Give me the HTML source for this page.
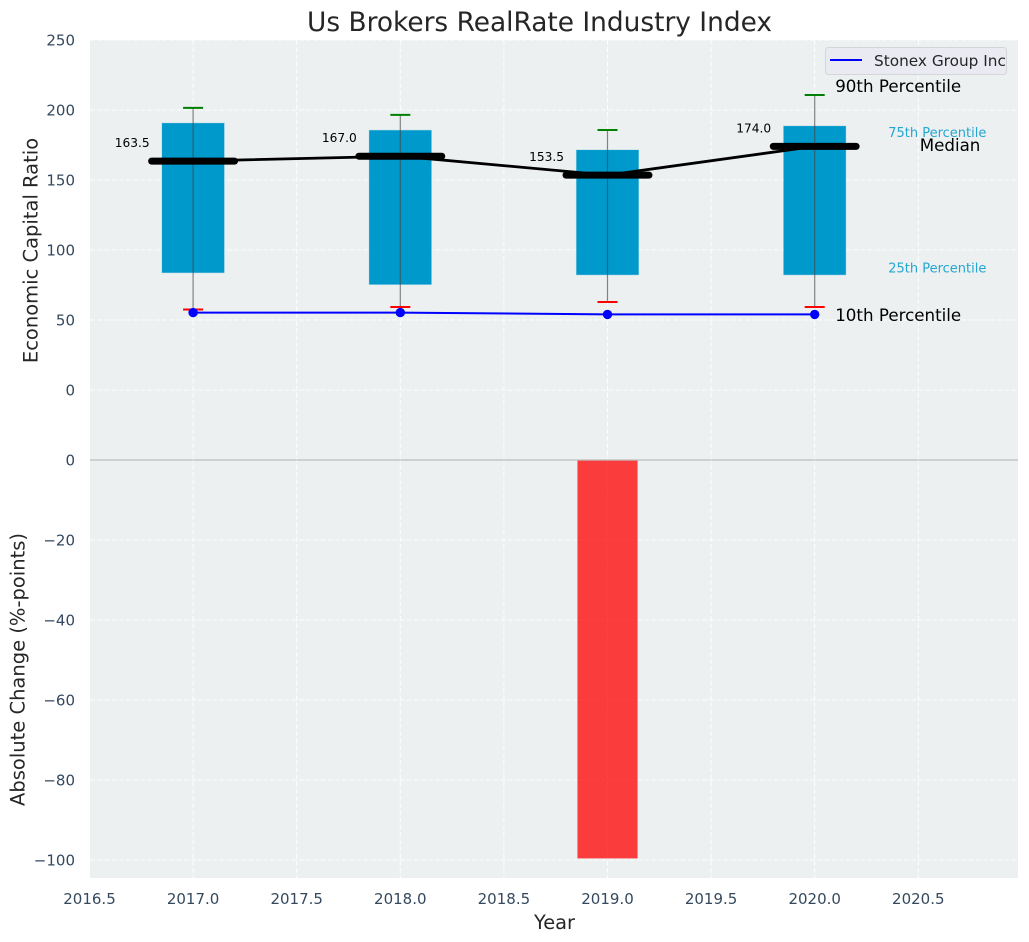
<!DOCTYPE html>
<html lang="en">
<head>
<meta charset="utf-8">
<title>Us Brokers RealRate Industry Index</title>
<style>
  html, body { margin: 0; padding: 0; background: #ffffff; }
  svg { display: block; font-family: "DejaVu Sans", "Liberation Sans", sans-serif; }
</style>
</head>
<body>
<svg id="chart" xmlns="http://www.w3.org/2000/svg" width="1029" height="942" viewBox="0 0 1029 942">
  <rect x="0" y="0" width="1029" height="942" fill="#ffffff"/>
  <rect x="90" y="40" width="928" height="420" fill="#ecf0f1"/>
  <rect x="90" y="460" width="928" height="418" fill="#ecf0f1"/>
  <g id="grid"></g>
  <g id="lower"></g>
  <g id="upper"></g>
  <line x1="90" y1="460" x2="1018" y2="460" stroke="#bdbdbd" stroke-width="1.2"/>
  <g id="ticks"></g>
  <text x="539.5" y="31" text-anchor="middle" font-size="26.4" fill="#262626">Us Brokers RealRate Industry Index</text>
  <text x="554.5" y="929" text-anchor="middle" font-size="19.4" fill="#262626">Year</text>
  <text transform="translate(37.5 250.5) rotate(-90)" text-anchor="middle" font-size="19.5" fill="#262626">Economic Capital Ratio</text>
  <text transform="translate(24.5 669.5) rotate(-90)" text-anchor="middle" font-size="19.5" fill="#262626">Absolute Change (%-points)</text>
  <g>
    <rect x="825.5" y="47.5" width="181" height="27" rx="3" fill="#eaeaf2" fill-opacity="0.9" stroke="#d5d5d8" stroke-width="1"/>
    <line x1="830" y1="60" x2="862" y2="60" stroke="#0000ff" stroke-width="2"/>
    <text x="874" y="66" font-size="15.3" fill="#262626">Stonex Group Inc</text>
  </g>
</svg>
<script>
const years = [2017, 2018, 2019, 2020];
const p90 = [201.5, 196.5, 185.7, 210.7];
const p75 = [190.6, 185.5, 171.4, 188.5];
const medians = [163.5, 167.0, 153.5, 174.0];
const p25 = [83.8, 75.4, 82.3, 82.3];
const p10 = [57.5, 59.3, 62.9, 59.3];
const company = [55.3, 55.3, 54.0, 54.0];
const changeValues = [0, 0, -99.6, 0];
const xTicks = [2016.5, 2017.0, 2017.5, 2018.0, 2018.5, 2019.0, 2019.5, 2020.0, 2020.5];
const upperTicks = [250, 200, 150, 100, 50, 0];
const lowerTicks = [0, -20, -40, -60, -80, -100];

const NS = 'http://www.w3.org/2000/svg';
const x = v => 607.5 + (v - 2019) * 207.2;
const yUp = v => 390 - v * 1.4;
const yLow = v => 460 - v * 4;

function make(parent, tag, attrs, content) {
  const node = document.createElementNS(NS, tag);
  Object.keys(attrs).forEach(k => node.setAttribute(k, attrs[k]));
  if (content !== undefined) node.textContent = content;
  parent.appendChild(node);
  return node;
}
const gridG = document.getElementById('grid');
const ticksG = document.getElementById('ticks');
const upperG = document.getElementById('upper');
const lowerG = document.getElementById('lower');
const gridStyle = { stroke: '#ffffff', 'stroke-width': 1, 'stroke-dasharray': '5 2.2', 'stroke-opacity': 0.9 };

xTicks.forEach(t => {
  const line = make(gridG, 'line', Object.assign({ x1: x(t), x2: x(t), y1: 40, y2: 878 }, gridStyle));
  
  
  const label = make(ticksG, 'text', { x: x(t), y: 904, 'text-anchor': 'middle', 'font-size': 15, fill: '#34495e' }, t.toFixed(1));
  
  
});
upperTicks.forEach(t => {
  const line = make(gridG, 'line', Object.assign({ x1: 90, x2: 1018, y1: yUp(t), y2: yUp(t) }, gridStyle));
  
  
  const label = make(ticksG, 'text', { x: 75, y: yUp(t) + 5.5, 'text-anchor': 'end', 'font-size': 15, fill: '#34495e' }, String(t));
  
  
});
lowerTicks.forEach(t => {
  const line = make(gridG, 'line', Object.assign({ x1: 90, x2: 1018, y1: yLow(t), y2: yLow(t) }, gridStyle));
  
  
  const label = make(ticksG, 'text', { x: 75, y: yLow(t) + 5.5, 'text-anchor': 'end', 'font-size': 15, fill: '#34495e' }, String(t).replace('-', '\u2212'));
  
  
});

changeValues.forEach((v, i) => {
  if (v === 0) return;
  const bar = make(lowerG, 'rect', { x: x(years[i] - 0.145), width: 207.2 * 0.29, y: yLow(0), height: yLow(v) - yLow(0), fill: '#ff0000', 'fill-opacity': 0.75 });
  
  
});

years.forEach((yr, i) => {
  const box = make(upperG, 'rect', { x: x(yr - 0.15), width: 207.2 * 0.3, y: yUp(p75[i]), height: yUp(p25[i]) - yUp(p75[i]), fill: '#0099cc', stroke: '#0099cc', 'stroke-opacity': 0.25 });
  
  
});
years.forEach((yr, i) => {
  const whisker = make(upperG, 'line', { x1: x(yr), x2: x(yr), y1: yUp(p90[i]), y2: yUp(p10[i]), stroke: '#444444', 'stroke-opacity': 0.65, 'stroke-width': 1.2 });
  
  
  const high = make(upperG, 'line', { x1: x(yr) - 10, x2: x(yr) + 10, y1: yUp(p90[i]), y2: yUp(p90[i]), stroke: '#008000', 'stroke-width': 2 });
  
  
  const low = make(upperG, 'line', { x1: x(yr) - 10, x2: x(yr) + 10, y1: yUp(p10[i]), y2: yUp(p10[i]), stroke: '#ff0000', 'stroke-width': 2 });
  
  
});

const medianLine = make(upperG, 'polyline', { points: years.map((yr, i) => x(yr) + ',' + yUp(medians[i])).join(' '), fill: 'none', stroke: '#000000', 'stroke-width': 2.8 });



years.forEach((yr, i) => {
  const bar = make(upperG, 'line', { x1: x(yr - 0.2), x2: x(yr + 0.2), y1: yUp(medians[i]), y2: yUp(medians[i]), stroke: '#000000', 'stroke-width': 7, 'stroke-linecap': 'round' });
  
  
  const label = make(upperG, 'text', { x: x(yr - 0.21), y: yUp(medians[i]) - 14, 'text-anchor': 'end', 'font-size': 12.2, fill: '#000000' }, medians[i].toFixed(1));
  
  
});

const companyLine = make(upperG, 'polyline', { points: years.map((yr, i) => x(yr) + ',' + yUp(company[i])).join(' '), fill: 'none', stroke: '#0000ff', 'stroke-width': 2 });


years.forEach((yr, i) => {
  const dot = make(upperG, 'circle', { cx: x(yr), cy: yUp(company[i]), r: 4.7, fill: '#0000ff' });
  
  
});

const last = years.length - 1;
const lastX = x(years[last]);
const t90 = make(upperG, 'text', { x: lastX + 20.5, y: yUp(p90[last]) - 3, 'font-size': 16.7, fill: '#000000' }, '90th Percentile');


const t75 = make(upperG, 'text', { x: lastX + 73.5, y: yUp(p75[last]) + 11, 'font-size': 13, fill: '#0099cc', 'fill-opacity': 0.85 }, '75th Percentile');


const tMed = make(upperG, 'text', { x: lastX + 105, y: yUp(medians[last]) + 4.5, 'font-size': 16.7, fill: '#000000' }, 'Median');


const t25 = make(upperG, 'text', { x: lastX + 73.5, y: yUp(p25[last]) - 2.5, 'font-size': 13, fill: '#0099cc', 'fill-opacity': 0.85 }, '25th Percentile');


const t10 = make(upperG, 'text', { x: lastX + 20.5, y: yUp(p10[last]) + 14, 'font-size': 16.7, fill: '#000000' }, '10th Percentile');


</script>
</body>
</html>
